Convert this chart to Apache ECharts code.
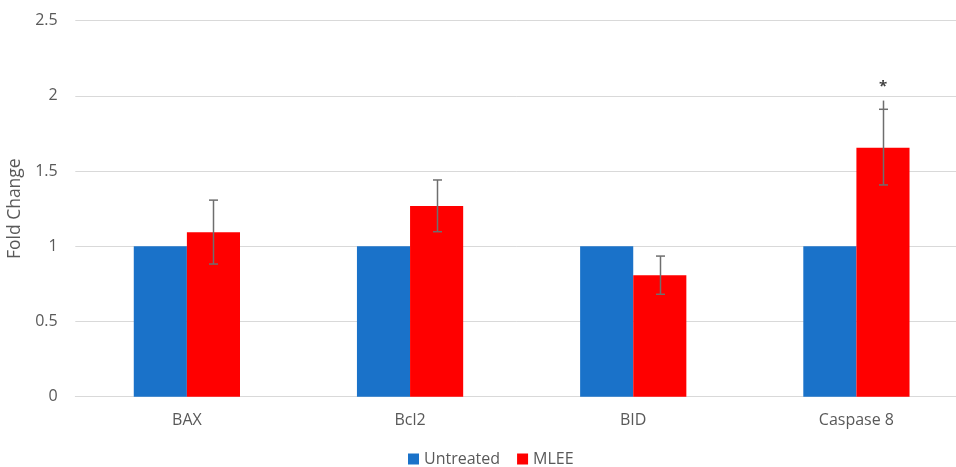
<!DOCTYPE html>
<html>
<head>
<meta charset="utf-8">
<script src="https://cdn.jsdelivr.net/npm/echarts@6/dist/echarts.min.js"></script>
<style>html,body{margin:0;padding:0;background:#fff}#c{width:956px;height:467px}</style>
</head>
<body>
<div id="c"></div>
<script>
var categories = ['BAX', 'Bcl2', 'BID', 'Caspase 8'];
var untreated = [1, 1, 1, 1];
var mlee = [1.093, 1.268, 0.807, 1.656];
var mleeErrLow = [0.882, 1.097, 0.681, 1.408];
var mleeErrHigh = [1.307, 1.441, 0.935, 1.911];
var mleeStemTop = [1.307, 1.441, 0.935, 1.969];
var sigText = ['', '', '', '*'];
var sigValue = [null, null, null, 2.06];
var yTicks = [0, 0.5, 1, 1.5, 2, 2.5];

var FONT = '"Open Sans", "Noto Sans", sans-serif';
var CAT_GAP = 0.524;

var chart = echarts.init(document.getElementById('c'), null, {renderer: 'canvas'});

function barOffset(api) {
  var band = api.size([1, 0])[0];
  var bw = band * (1 - CAT_GAP) / 2;
  return bw / 2;
}

var errData = categories.map(function (c, i) {
  return [i, mleeErrLow[i], mleeErrHigh[i], mleeStemTop[i]];
});
var sigData = categories.map(function (c, i) {
  return [i, sigValue[i], sigText[i]];
}).filter(function (d) { return d[1] != null; });

chart.setOption({
  animation: false,
  grid: {left: 75.3, right: -12, top: 20.7, bottom: 70.3, outerBoundsMode: 'none', containLabel: false},
  legend: {
    top: 451,
    left: 408,
    padding: 0,
    icon: 'rect',
    itemWidth: 11,
    itemHeight: 11,
    itemGap: 17,
    itemTextGap: 3,
    textStyle: {fontFamily: FONT, fontSize: 16, color: '#595959'},
    data: ['Untreated', 'MLEE']
  },
  xAxis: {
    type: 'category',
    data: categories,
    axisLine: {show: true, lineStyle: {color: '#d9d9d9', width: 1}},
    axisTick: {show: false},
    axisLabel: {fontFamily: FONT, fontSize: 16, color: '#595959', margin: 16}
  },
  yAxis: {
    type: 'value',
    min: yTicks[0],
    max: yTicks[yTicks.length - 1],
    interval: 0.5,
    name: 'Fold Change',
    nameLocation: 'middle',
    nameGap: 49,
    nameTextStyle: {fontFamily: FONT, fontSize: 17.5, color: '#595959'},
    axisLine: {show: false},
    axisTick: {show: false},
    axisLabel: {fontFamily: FONT, fontSize: 16, color: '#595959', margin: 17.6},
    splitLine: {lineStyle: {color: '#d9d9d9', width: 1}}
  },
  series: [
    {
      name: 'Untreated',
      type: 'bar',
      data: untreated,
      barGap: '0%',
      barCategoryGap: (CAT_GAP * 100) + '%',
      itemStyle: {color: '#1a72c9'}
    },
    {
      name: 'MLEE',
      type: 'bar',
      data: mlee,
      itemStyle: {color: '#ff0000'}
    },
    {
      name: 'errors',
      type: 'custom',
      z: 5,
      data: errData,
      renderItem: function (params, api) {
        var off = barOffset(api);
        var lo = api.coord([api.value(0), api.value(1)]);
        var hi = api.coord([api.value(0), api.value(2)]);
        var st = api.coord([api.value(0), api.value(3)]);
        var x = Math.round(lo[0] + off) + 0.5;
        var cap = 4.5;
        var style = {stroke: '#6e6e6e', lineWidth: 1.5};
        return {
          type: 'group',
          children: [
            {type: 'line', shape: {x1: x, y1: lo[1], x2: x, y2: Math.min(hi[1], st[1])}, style: style},
            {type: 'line', shape: {x1: x - cap, y1: lo[1], x2: x + cap, y2: lo[1]}, style: style},
            {type: 'line', shape: {x1: x - cap, y1: hi[1], x2: x + cap, y2: hi[1]}, style: style}
          ]
        };
      }
    },
    {
      name: 'sig',
      type: 'custom',
      z: 6,
      data: sigData,
      renderItem: function (params, api) {
        var off = barOffset(api);
        var p = api.coord([api.value(0), api.value(1)]);
        return {
          type: 'text',
          x: p[0] + off,
          y: p[1],
          style: {
            text: sigData[params.dataIndex][2],
            fill: '#404040',
            font: 'bold 15px ' + FONT,
            align: 'center',
            verticalAlign: 'middle'
          }
        };
      }
    }
  ]
});
</script>
</body>
</html>
